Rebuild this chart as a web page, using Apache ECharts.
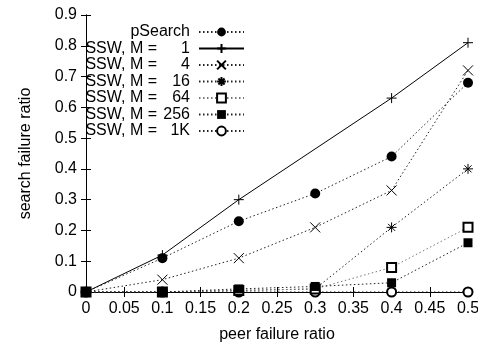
<!DOCTYPE html>
<html><head><meta charset="utf-8">
<script src="https://cdn.jsdelivr.net/npm/echarts@6/dist/echarts.min.js"></script>
<style>html,body{margin:0;padding:0;background:#fff}#c{width:478px;height:345px}</style>
</head><body><div id="c"></div>
<script>
const xValues = [0, 0.1, 0.2, 0.3, 0.4, 0.5];
const pSearch = [0, 0.11, 0.23, 0.32, 0.44, 0.68];
const sswM1x = [0, 0.1, 0.2, 0.4, 0.5];
const sswM1 = [0, 0.12, 0.30, 0.63, 0.81];
const sswM4 = [0, 0.04, 0.11, 0.21, 0.33, 0.72];
const sswM16 = [0, 0, 0.005, 0.01, 0.21, 0.40];
const sswM64 = [0, 0, 0.005, 0.01, 0.08, 0.21];
const sswM256 = [0, 0, 0.01, 0.018, 0.03, 0.16];
const sswM1K = [0, 0, 0, 0, 0, 0];
const seriesNames = ['pSearch', 'SSW, M = 1', 'SSW, M = 4', 'SSW, M = 16', 'SSW, M = 64', 'SSW, M = 256', 'SSW, M = 1K'];

const FONT = 'Liberation Sans';
const pair = (xs, ys) => xs.map((x, i) => [x, ys[i]]);
const dot = [1.5, 2.5];
function mk(name, xs, ys, symbol, size, opts) {
  opts = opts || {};
  return Object.assign({
    name, type: 'line', data: pair(xs, ys), symbol, symbolSize: size,
    showAllSymbol: true,
    lineStyle: { color: opts.lc || '#222', width: 1, type: opts.solid ? 'solid' : dot },
    itemStyle: opts.item || { color: '#000', borderColor: '#000', borderWidth: 1 },
    emphasis: { disabled: true },
    animation: false
  }, opts.extra || {});
}
const plus = 'path://M0,5L10,5M5,0L5,10';
const cross = 'path://M0,0L10,10M10,0L0,10';
const star = 'path://M0,5L10,5M5,0L5,10M1.5,1.5L8.5,8.5M8.5,1.5L1.5,8.5';

const series = [
  mk(seriesNames[0], xValues, pSearch, 'circle', 10, { item: { color: '#000' } }),
  mk(seriesNames[1], sswM1x, sswM1, plus, 10, { solid: true, lc: '#000' }),
  mk(seriesNames[2], xValues, sswM4, cross, 10),
  mk(seriesNames[3], xValues, sswM16, star, 10),
  mk(seriesNames[4], xValues, sswM64, 'emptyRect', 9, { lc: '#777', item: { color: '#000', borderColor: '#000', borderWidth: 1 } }),
  mk(seriesNames[5], xValues, sswM256, 'rect', 9, { item: { color: '#000' } }),
  mk(seriesNames[6], xValues, sswM1K, 'emptyCircle', 9, { item: { color: '#000', borderColor: '#000', borderWidth: 1 }, extra: { z: 1 } })
];

const chart = echarts.init(document.getElementById('c'), null, { renderer: 'canvas' });
const axisCommon = {
  axisLine: { show: true, lineStyle: { color: '#000', width: 1 } },
  axisTick: { show: true, inside: true, length: 5, lineStyle: { color: '#000' } },
  splitLine: { show: false }
};
chart.setOption({
  backgroundColor: '#fff',
  textStyle: { fontFamily: FONT },
  grid: { left: 86, right: 10, top: 15, bottom: 53, containLabel: false, outerBoundsMode: 'none' },
  legend: {
    orient: 'vertical', align: 'right', right: 228, top: 19,
    itemWidth: 45, itemHeight: 11, itemGap: 0.5,
    data: seriesNames,
    formatter: function (n) {
      if (n === 'pSearch') return '{p|pSearch}';
      const num = n.split('= ')[1];
      return '{a|SSW, M =}{b|' + num + '}';
    },
    textStyle: {
      fontFamily: FONT, fontSize: 16, color: '#000',
      rich: {
        p: { fontFamily: FONT, fontSize: 16, color: '#000', padding: [0, 4, 0, 0] },
        a: { fontFamily: FONT, fontSize: 16, color: '#000', width: 73 },
        b: { fontFamily: FONT, fontSize: 16, color: '#000', width: 33, align: 'right', padding: [0, 4, 0, 0] }
      }
    }
  },
  xAxis: [
    Object.assign({
      type: 'value', min: 0, max: 0.5, interval: 0.05,
      name: 'peer failure ratio', nameLocation: 'middle', nameGap: 35,
      nameTextStyle: { fontFamily: FONT, fontSize: 16, color: '#000' },
      axisLabel: { fontFamily: FONT, fontSize: 16, color: '#000', margin: 9,
        formatter: v => String(parseFloat(v.toFixed(2))) }
    }, axisCommon),
    Object.assign({
      type: 'value', min: 0, max: 0.5, interval: 0.05, position: 'top',
      axisLabel: { show: false }
    }, axisCommon)
  ],
  yAxis: [
    Object.assign({
      type: 'value', min: 0, max: 0.9, interval: 0.1,
      name: 'search failure ratio', nameLocation: 'middle', nameGap: 52, nameRotate: 90,
      nameTextStyle: { fontFamily: FONT, fontSize: 16, color: '#000' },
      axisLabel: { fontFamily: FONT, fontSize: 16, color: '#000', margin: 9,
        formatter: v => String(parseFloat(v.toFixed(1))) }
    }, axisCommon),
    Object.assign({
      type: 'value', min: 0, max: 0.9, interval: 0.1, position: 'right',
      axisLabel: { show: false }
    }, axisCommon)
  ],
  series: series
});
</script></body></html>
